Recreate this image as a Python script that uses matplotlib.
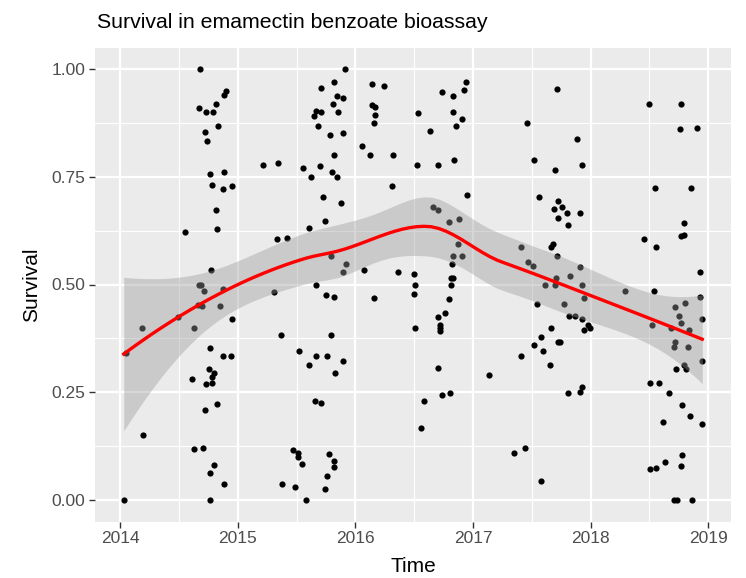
import numpy as np
import matplotlib
matplotlib.use("Agg")
import matplotlib.pyplot as plt

# ---- data (decimal year, survival proportion) ----
time = [
    2014.68, 2014.816, 2014.669, 2014.729, 2014.788, 2014.723, 2014.74, 2014.76, 2014.78, 2014.816,
    2014.553, 2014.822, 2014.769,
    2014.899, 2014.884, 2014.833, 2014.879, 2014.876, 2014.95, 2015.707, 2015.817, 2015.84, 2015.806,
    2015.661, 2015.707, 2015.647, 2015.684, 2015.78, 2015.817, 2015.213, 2015.344, 2015.554, 2015.698,
    2015.619, 2015.797, 2015.721, 2015.743, 2015.607, 2015.332, 2015.415, 2015.792,
    2014.667, 2014.689, 2014.709, 2014.661, 2014.697, 2014.491, 2014.187, 2014.629, 2014.051, 2014.763,
    2014.754, 2014.8, 2014.782, 2014.61, 2014.726, 2014.782, 2014.825, 2014.723, 2014.196, 2014.627,
    2014.703, 2014.797, 2014.765, 2014.029, 2014.765,
    2014.873, 2014.85, 2014.952, 2015.304, 2015.667, 2015.746, 2015.82, 2015.369, 2015.792, 2014.871,
    2014.939, 2015.517, 2015.661, 2015.76, 2015.605, 2015.823, 2015.656, 2015.704, 2015.466, 2015.511,
    2015.514, 2015.545, 2015.775, 2015.82, 2015.82, 2015.76, 2015.741, 2015.375, 2015.486, 2015.577,
    2014.882,
    2015.913, 2015.896, 2015.854, 2015.891, 2015.845, 2015.874, 2016.14, 2016.242, 2016.138, 2016.166,
    2016.168, 2016.157, 2016.053, 2016.123, 2016.319, 2016.31, 2016.534, 2016.631, 2016.526, 2016.704,
    2016.736, 2016.832, 2016.832, 2016.852, 2016.838, 2016.662, 2016.699, 2016.798, 2016.832, 2016.818,
    2015.917, 2015.894, 2016.07, 2016.359, 2016.5,
    2016.813, 2016.832, 2016.509, 2016.813, 2016.495, 2016.16, 2016.798, 2016.758, 2016.704, 2016.721,
    2016.721, 2016.721, 2016.509, 2015.891, 2016.704, 2016.733, 2016.801, 2016.582, 2016.56,
    2016.903, 2016.94, 2016.925, 2016.951, 2016.88, 2016.874, 2016.906, 2017.713, 2017.456, 2017.52,
    2017.696, 2017.558, 2017.719, 2017.69, 2017.759, 2017.798, 2017.719, 2017.807, 2017.405, 2017.665,
    2017.677, 2017.716, 2017.464, 2017.512,
    2017.827, 2017.702, 2017.614, 2017.696, 2017.541, 2017.773, 2017.813, 2017.864, 2017.66, 2017.58,
    2017.724, 2017.741, 2017.52, 2017.597, 2017.41, 2017.656, 2017.135, 2017.81, 2017.348, 2017.444,
    2017.577,
    2017.886, 2017.926, 2017.912, 2017.909, 2018.498, 2018.77, 2018.757, 2018.906, 2018.544, 2018.853,
    2018.793, 2018.768, 2018.791, 2018.453, 2018.558, 2018.927,
    2017.93, 2017.947, 2017.93, 2017.947, 2017.973, 2017.998, 2018.289, 2018.538, 2018.521, 2018.927,
    2018.714, 2018.799, 2018.748, 2018.77, 2018.683, 2018.833, 2018.943, 2018.717, 2018.711, 2018.827,
    2018.949, 2018.791, 2018.813, 2018.728, 2018.504, 2018.578, 2017.923, 2017.912, 2018.663, 2018.774,
    2018.847, 2018.944, 2018.617, 2018.774, 2018.765, 2018.634, 2018.507, 2018.553, 2018.711, 2018.731,
    2018.859,
]
survival = [
    1.000, 0.919, 0.909, 0.900, 0.900, 0.853, 0.834, 0.757, 0.730, 0.674,
    0.622, 0.629, 0.534,
    0.948, 0.940, 0.868, 0.762, 0.722, 0.728, 0.957, 0.969, 0.938, 0.919,
    0.903, 0.900, 0.892, 0.867, 0.848, 0.800, 0.777, 0.781, 0.771, 0.775,
    0.750, 0.761, 0.703, 0.648, 0.631, 0.605, 0.609, 0.565,
    0.500, 0.500, 0.486, 0.453, 0.449, 0.424, 0.400, 0.400, 0.341, 0.353,
    0.305, 0.294, 0.285, 0.281, 0.268, 0.271, 0.223, 0.209, 0.150, 0.119,
    0.121, 0.080, 0.062, 0.000, 0.000,
    0.490, 0.451, 0.421, 0.483, 0.500, 0.475, 0.472, 0.382, 0.382, 0.333,
    0.333, 0.346, 0.333, 0.333, 0.314, 0.294, 0.230, 0.224, 0.116, 0.108,
    0.100, 0.083, 0.107, 0.091, 0.077, 0.056, 0.026, 0.036, 0.031, 0.000,
    0.036,
    1.000, 0.933, 0.900, 0.852, 0.750, 0.690, 0.966, 0.961, 0.917, 0.913,
    0.894, 0.875, 0.821, 0.800, 0.800, 0.729, 0.899, 0.857, 0.777, 0.777,
    0.947, 0.937, 0.900, 0.867, 0.790, 0.679, 0.674, 0.645, 0.565, 0.548,
    0.548, 0.528, 0.533, 0.528, 0.525,
    0.515, 0.515, 0.500, 0.500, 0.478, 0.468, 0.466, 0.435, 0.424, 0.407,
    0.399, 0.393, 0.400, 0.323, 0.307, 0.243, 0.249, 0.229, 0.166,
    0.885, 0.971, 0.951, 0.707, 0.653, 0.595, 0.567, 0.954, 0.875, 0.790,
    0.766, 0.703, 0.693, 0.676, 0.680, 0.667, 0.655, 0.639, 0.588, 0.588,
    0.593, 0.567, 0.553, 0.543,
    0.520, 0.516, 0.500, 0.500, 0.455, 0.455, 0.428, 0.428, 0.400, 0.378,
    0.366, 0.366, 0.359, 0.345, 0.333, 0.313, 0.291, 0.249, 0.109, 0.120,
    0.045,
    0.838, 0.777, 0.666, 0.540, 0.920, 0.919, 0.861, 0.863, 0.724, 0.724,
    0.643, 0.613, 0.616, 0.606, 0.588, 0.528,
    0.500, 0.469, 0.420, 0.394, 0.405, 0.400, 0.485, 0.486, 0.405, 0.470,
    0.448, 0.457, 0.428, 0.411, 0.400, 0.394, 0.420, 0.367, 0.356, 0.356,
    0.323, 0.314, 0.303, 0.304, 0.271, 0.271, 0.261, 0.250, 0.249, 0.220,
    0.194, 0.176, 0.181, 0.104, 0.079, 0.087, 0.071, 0.073, 0.000, 0.000,
    0.000,
]
year_ticks = [2014, 2015, 2016, 2017, 2018, 2019]
surv_ticks = [0.00, 0.25, 0.50, 0.75, 1.00]

x = np.asarray(time, float)
y = np.asarray(survival, float)
n = len(x)
SPAN = 0.75


# ---- loess (degree 2, span 0.75) with kd-tree vertex + Hermite interpolation ----
def local_rows(x0):
    q = int(np.floor(n * SPAN))
    d = np.abs(x - x0)
    h = np.sort(d)[q - 1]
    u = np.clip(d / h, 0, 1)
    w = (1 - u ** 3) ** 3
    X = np.column_stack([np.ones(n), x - x0, (x - x0) ** 2])
    A = X.T * w
    sol = np.linalg.solve(A @ X, A)
    return sol[0], sol[1]


fc = int(np.floor(n * SPAN * 0.2))
xsorted = np.sort(x)
mu = 0.005 * (xsorted[-1] - xsorted[0])
verts = {xsorted[0] - mu, xsorted[-1] + mu}


def split(lo_i, hi_i):
    if hi_i - lo_i + 1 <= fc:
        return
    m = (lo_i + hi_i) // 2
    v = 0.5 * (xsorted[m] + xsorted[m + 1])
    verts.add(v)
    split(lo_i, m)
    split(m + 1, hi_i)


split(0, n - 1)
verts = np.array(sorted(verts))
VL, VD = zip(*[local_rows(v) for v in verts])
VL = np.array(VL)
VD = np.array(VD)


def interp_rows(xq):
    out = []
    for x0 in xq:
        j = np.clip(np.searchsorted(verts, x0) - 1, 0, len(verts) - 2)
        a, b = verts[j], verts[j + 1]
        hh = b - a
        t = (x0 - a) / hh
        h00 = 2 * t ** 3 - 3 * t ** 2 + 1
        h10 = t ** 3 - 2 * t ** 2 + t
        h01 = -2 * t ** 3 + 3 * t ** 2
        h11 = t ** 3 - t ** 2
        out.append(h00 * VL[j] + h10 * hh * VD[j] + h01 * VL[j + 1] + h11 * hh * VD[j + 1])
    return np.array(out)


xs = np.linspace(x.min(), x.max(), 80)
L = interp_rows(x)
Lp = interp_rows(xs)
fit = Lp @ y
res = y - L @ y
IL = np.eye(n) - L
C = IL.T @ IL
delta1 = np.trace(C)
delta2 = np.trace(C @ C)
s = np.sqrt(np.sum(res ** 2) / delta1)
se = s * np.sqrt(np.sum(Lp ** 2, axis=1))
df = delta1 ** 2 / delta2
z = 1.959964
tq = z + (z ** 3 + z) / (4 * df)
lo = fit - tq * se
hi = fit + tq * se

# ---- figure ----
W, H = 746, 578
fig = plt.figure(figsize=(W / 100, H / 100), dpi=100)
fig.patch.set_facecolor("white")
ax = fig.add_axes([94.8 / W, 1 - 521.5 / H, (731.2 - 94.8) / W, (521.5 - 47.5) / H])
ax.set_facecolor("#EBEBEB")

xr = x.max() - x.min()
ax.set_xlim(x.min() - 0.05 * xr, x.max() + 0.05 * xr)
ax.set_ylim(-0.05, 1.05)

for yy in [0.125, 0.375, 0.625, 0.875]:
    ax.axhline(yy, color="white", lw=0.8, zorder=0.5)
for xx in [2014.5, 2015.5, 2016.5, 2017.5, 2018.5]:
    ax.axvline(xx, color="white", lw=0.8, zorder=0.5)
for yy in surv_ticks:
    ax.axhline(yy, color="white", lw=1.6, zorder=0.6)
for xx in year_ticks:
    ax.axvline(xx, color="white", lw=1.6, zorder=0.6)

ax.scatter(x, y, s=20, color="black", linewidths=0, zorder=2)
ax.fill_between(xs, lo, hi, color="#999999", alpha=0.4, linewidth=0, zorder=3)
ax.plot(xs, fit, color="red", lw=2.4, zorder=4)

for sp in ax.spines.values():
    sp.set_visible(False)
ax.set_xticks(year_ticks)
ax.set_xticklabels([str(t) for t in year_ticks])
ax.set_yticks(surv_ticks)
ax.set_yticklabels([f"{t:.2f}" for t in surv_ticks])
ax.tick_params(axis="both", length=4, width=1, color="#333333", labelcolor="#4D4D4D",
               labelsize=12.5, pad=3)
for lab in ax.get_xticklabels() + ax.get_yticklabels():
    lab.set_family("Liberation Sans")

ax.set_xlabel("Time", fontsize=15, family="Liberation Sans", color="black", labelpad=8)
ax.set_ylabel("Survival", fontsize=15, family="Liberation Sans", color="black", labelpad=7)
fig.text(97 / W, 1 - 22 / H, "Survival in emamectin benzoate bioassay", ha="left", va="center",
         fontsize=15.3, family="Liberation Sans", color="black")

fig.savefig("out.png", dpi=100)
